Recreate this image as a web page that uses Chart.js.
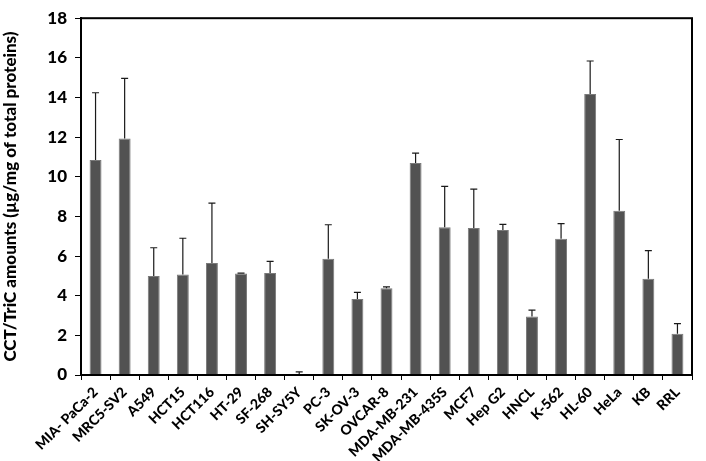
<!DOCTYPE html>
<html>
<head>
<meta charset="utf-8">
<script src="https://cdn.jsdelivr.net/npm/chart.js@4.4.0/dist/chart.umd.min.js"></script>
<style>
html,body{margin:0;padding:0;background:#fff;}
#wrap{width:706px;height:461px;}
</style>
</head>
<body>
<div id="wrap"><canvas id="c" width="706" height="461"></canvas></div>
<script>
const categories = ["MIA- PaCa-2","MRC5-SV2","A549","HCT15","HCT116","HT-29","SF-268","SH-SY5Y","PC-3","SK-OV-3","OVCAR-8","MDA-MB-231","MDA-MB-435S","MCF7","Hep G2","HNCL","K-562","HL-60","HeLa","KB","RRL"];
const meanValues = [10.85,11.93,5.0,5.07,5.65,5.12,5.15,0.05,5.86,3.83,4.38,10.7,7.46,7.41,7.31,2.95,6.87,14.17,8.28,4.86,2.08];
const errorValues = [3.39,3.03,1.42,1.83,3.02,0.02,0.58,0.11,1.72,0.34,0.07,0.49,2.06,1.97,0.29,0.32,0.77,1.67,3.6,1.41,0.51];
const yTicks = [0,2,4,6,8,10,12,14,16,18];

const FONT = "Lato";

const errorBarPlugin = {
  id: 'errorBars',
  afterDatasetsDraw(chart) {
    const ctx = chart.ctx;
    const meta = chart.getDatasetMeta(0);
    const y = chart.scales.y;
    ctx.save();
    ctx.strokeStyle = '#1a1a1a';
    ctx.lineWidth = 1.2;
    meta.data.forEach((bar, i) => {
      const x = bar.x;
      const yTop = y.getPixelForValue(meanValues[i] + errorValues[i]);
      const yBase = y.getPixelForValue(meanValues[i]);
      ctx.beginPath();
      ctx.moveTo(x, yBase);
      ctx.lineTo(x, yTop);
      ctx.moveTo(x - 3.5, yTop);
      ctx.lineTo(x + 3.5, yTop);
      ctx.stroke();
    });
    ctx.restore();
  }
};

const framePlugin = {
  id: 'frame',
  afterDraw(chart) {
    const a = chart.chartArea;
    const ctx = chart.ctx;
    ctx.save();
    ctx.strokeStyle = '#000';
    ctx.lineWidth = 2;
    ctx.strokeRect(a.left, a.top, a.right - a.left, a.bottom - a.top);
    ctx.restore();
  }
};

new Chart(document.getElementById('c'), {
  type: 'bar',
  data: {
    labels: categories,
    datasets: [{
      data: meanValues,
      backgroundColor: '#525252',
      borderColor: '#7a7a7a',
      borderWidth: 1,
      barPercentage: 0.41,
      categoryPercentage: 1.0
    }]
  },
  options: {
    responsive: false,
    animation: false,
    devicePixelRatio: 1,
    layout: { padding: { top: 8, right: 14, left: 0, bottom: 0 } },
    plugins: { legend: { display: false }, tooltip: { enabled: false } },
    scales: {
      x: {
        grid: { display: true, drawOnChartArea: false, drawTicks: true, tickLength: 5, color: '#000', lineWidth: 1 },
        border: { display: true, color: '#000', width: 2 },
        ticks: {
          color: '#000', maxRotation: 45, minRotation: 45, autoSkip: false,
          font: { family: FONT, size: 14, weight: 900 }, padding: 4
        },
        afterFit(scale) { scale.height = 86; }
      },
      y: {
        min: 0, max: 18,
        afterBuildTicks(scale) { scale.ticks = yTicks.map(v => ({ value: v })); },
        grid: { display: true, drawOnChartArea: false, drawTicks: true, tickLength: 6, color: '#000', lineWidth: 1 },
        border: { display: true, color: '#000', width: 2 },
        ticks: { color: '#000', font: { family: FONT, size: 17, weight: 900 }, padding: 8 },
        title: {
          display: true,
          text: 'CCT/TriC amounts (µg/mg of total proteins)',
          color: '#000',
          font: { family: FONT, size: 17, weight: 900 },
          padding: { top: 0, bottom: 2 }
        },
        afterFit(scale) { scale.width = 81; }
      }
    }
  },
  plugins: [errorBarPlugin, framePlugin]
});
</script>
</body>
</html>
